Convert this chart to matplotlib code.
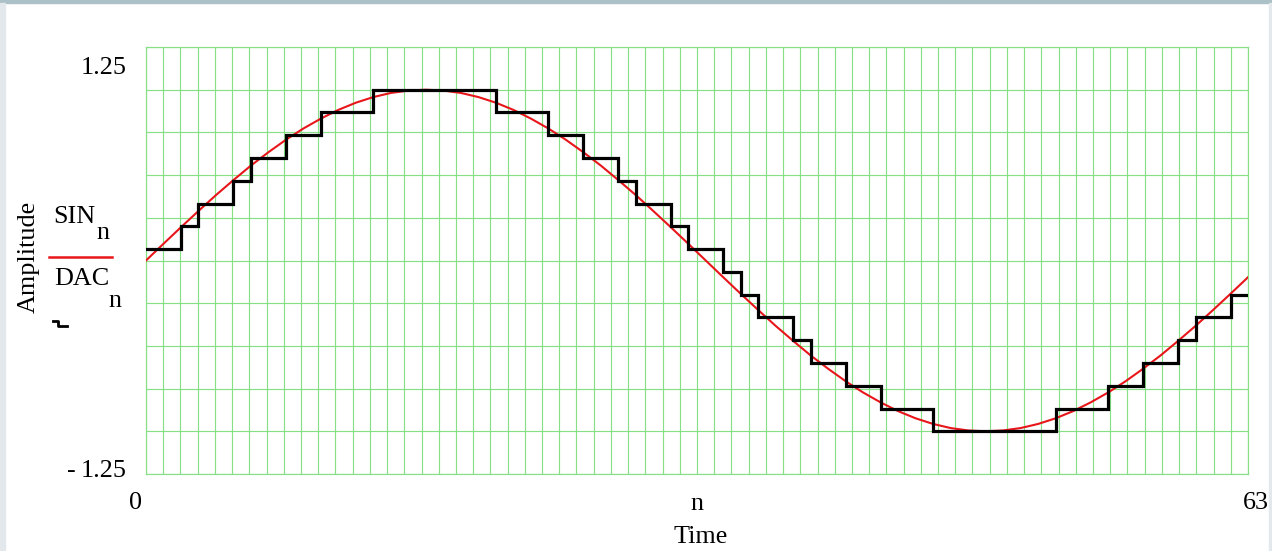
import numpy as np
import matplotlib
matplotlib.use("Agg")
import matplotlib.pyplot as plt
from matplotlib.lines import Line2D
from matplotlib.patches import Rectangle

# ---- data ----
n = list(range(64))
SIN = [0.000, 0.098, 0.195, 0.290, 0.383, 0.471, 0.556, 0.634, 0.707, 0.773,
       0.831, 0.882, 0.924, 0.957, 0.981, 0.995, 1.000, 0.995, 0.981, 0.957,
       0.924, 0.882, 0.831, 0.773, 0.707, 0.634, 0.556, 0.471, 0.383, 0.290,
       0.195, 0.098, 0.000, -0.098, -0.195, -0.290, -0.383, -0.471, -0.556, -0.634,
       -0.707, -0.773, -0.831, -0.882, -0.924, -0.957, -0.981, -0.995, -1.000, -0.995,
       -0.981, -0.957, -0.924, -0.882, -0.831, -0.773, -0.707, -0.634, -0.556, -0.471,
       -0.383, -0.290, -0.195, -0.098]
DAC = [0.067, 0.067, 0.200, 0.333, 0.333, 0.467, 0.600, 0.600, 0.733, 0.733,
       0.867, 0.867, 0.867, 1.000, 1.000, 1.000, 1.000, 1.000, 1.000, 1.000,
       0.867, 0.867, 0.867, 0.733, 0.733, 0.600, 0.600, 0.467, 0.333, 0.333,
       0.200, 0.067, 0.067, -0.067, -0.200, -0.333, -0.333, -0.467, -0.600, -0.600,
       -0.733, -0.733, -0.867, -0.867, -0.867, -1.000, -1.000, -1.000, -1.000, -1.000,
       -1.000, -1.000, -0.867, -0.867, -0.867, -0.733, -0.733, -0.600, -0.600, -0.467,
       -0.333, -0.333, -0.200, -0.200]
x_min, x_max = 0, 63
y_min, y_max = -1.25, 1.25
y_tick_labels = ["1.25", "1.25"]   # bottom one is preceded by a separate minus sign
x_tick_labels = ["0", "63"]
x_label_var = "n"
x_label = "Time"
y_label = "Amplitude"

W, H = 1272, 551
fig = plt.figure(figsize=(W / 100, H / 100), dpi=100)
fig.patch.set_facecolor("white")

def fx(px):
    return px / W

def fy(py):
    return 1 - py / H

# frame strips
fig.patches.append(Rectangle((0, fy(3)), 1, 3 / H, transform=fig.transFigure,
                             color="#abc1c7", zorder=0))
fig.patches.append(Rectangle((0, 0), 5 / W, fy(3), transform=fig.transFigure,
                             color="#e2e8ec", zorder=0))
fig.patches.append(Rectangle((fx(1269), 0), 3 / W, fy(3), transform=fig.transFigure,
                             color="#e2e8ec", zorder=0))

L, R, T, B = 146, 1248, 47, 474
ax = fig.add_axes([fx(L), fy(B), (R - L) / W, (B - T) / H])
ax.set_xlim(x_min, x_max)
ax.set_ylim(y_min, y_max)

grid_color = "#86e086"
ax.set_xticks(np.linspace(x_min, x_max, 65))
ax.set_yticks(np.linspace(y_min, y_max, 11))
ax.tick_params(length=0, labelbottom=False, labelleft=False)
ax.grid(True, color=grid_color, linewidth=0.85)
for s in ax.spines.values():
    s.set_color(grid_color)
    s.set_linewidth(0.85)

ax.plot(n, SIN, color="#e8161b", linewidth=1.5, zorder=3)
ax.plot(n, DAC, color="black", linewidth=2.3, drawstyle="steps-post", zorder=4,
        solid_joinstyle="miter")

font = ["Liberation Serif", "DejaVu Serif"]
fs = 18.8

fig.text(fx(127), fy(74), y_tick_labels[0], ha="right", va="baseline", family=font, fontsize=fs)
fig.text(fx(127), fy(477), y_tick_labels[1], ha="right", va="baseline", family=font, fontsize=fs)
fig.text(fx(76), fy(477), "-", ha="right", va="baseline", family=font, fontsize=fs)
fig.text(fx(135), fy(509), x_tick_labels[0], ha="center", va="baseline", family=font, fontsize=fs)
fig.text(fx(1256), fy(509), x_tick_labels[1], ha="center", va="baseline", family=font, fontsize=fs)
fig.text(fx(697), fy(510), x_label_var, ha="center", va="baseline", family=font, fontsize=fs)
fig.text(fx(701), fy(543), x_label, ha="center", va="baseline", family=font, fontsize=fs)
fig.text(fx(29), fy(257), y_label, ha="center", va="center", rotation=90, family=font, fontsize=fs)

# trace labels
fig.text(fx(53), fy(223), "SIN", ha="left", va="baseline", family=font, fontsize=fs)
fig.text(fx(96), fy(239), "n", ha="left", va="baseline", family=font, fontsize=fs)
fig.text(fx(54), fy(285), "DAC", ha="left", va="baseline", family=font, fontsize=fs)
fig.text(fx(108), fy(307), "n", ha="left", va="baseline", family=font, fontsize=fs)
fig.lines.append(Line2D([fx(49), fx(112)], [fy(257), fy(257)], transform=fig.transFigure,
                        color="#e8161b", linewidth=1.8))
fig.lines.append(Line2D([fx(53), fx(58), fx(58), fx(67)], [fy(321), fy(321), fy(326), fy(326)],
                        transform=fig.transFigure, color="black", linewidth=2.0))

fig.savefig("out.png", dpi=100)
